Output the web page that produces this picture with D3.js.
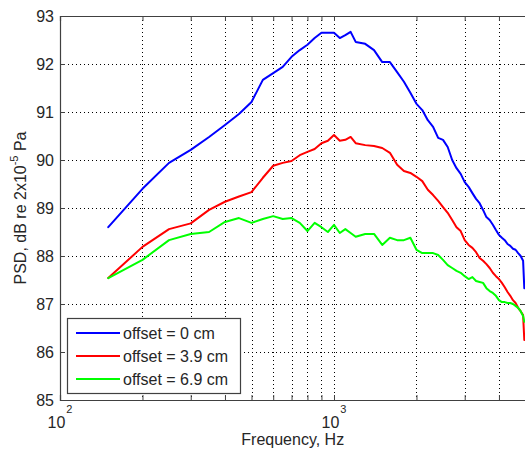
<!DOCTYPE html>
<html>
<head>
<meta charset="utf-8">
<script src="https://cdn.jsdelivr.net/npm/d3@7"></script>
<style>
  html, body { margin: 0; padding: 0; background: #fff; }
  svg { display: block; font-family: "Liberation Sans", Arial, Helvetica, sans-serif; }
</style>
</head>
<body>
<svg id="chart" width="525" height="455"></svg>
<script>
// Frequency grid (Hz)
const freqHz = [150, 200, 250, 300, 350, 400, 450, 500, 550, 600, 650, 700, 750, 800, 850, 900, 950, 1000, 1050, 1100, 1150, 1200,
  1300, 1400, 1500, 1600, 1700, 1800, 1900, 2000, 2100, 2200, 2300, 2400, 2500, 2600, 2700, 2800, 2900, 3000,
  3100, 3200, 3300, 3400, 3500, 3600, 3700, 3800, 3900, 4000, 4100, 4200, 4300, 4400, 4500, 4600, 4700, 4800, 4900, 4950];

// PSD levels, dB re 2x10^-5 Pa
const psdOffset0 = [88.60, 89.40, 89.94, 90.21, 90.48, 90.73, 90.96, 91.21, 91.67, 91.81, 91.94, 92.15, 92.29, 92.40, 92.54, 92.65, 92.65, 92.65, 92.54, 92.60, 92.67, 92.46,
  92.42, 92.29, 92.04, 92.04, 91.83, 91.63, 91.40, 91.17, 91.04, 90.83, 90.69, 90.46, 90.42, 90.27, 90.00, 89.83, 89.71, 89.54,
  89.44, 89.31, 89.19, 89.10, 88.96, 88.81, 88.75, 88.65, 88.54, 88.44, 88.38, 88.33, 88.25, 88.21, 88.15, 88.13, 88.06, 88.00, 87.90, 87.33];
const psdOffset39 = [87.54, 88.19, 88.56, 88.68, 88.96, 89.13, 89.24, 89.33, 89.63, 89.88, 89.94, 89.98, 90.10, 90.17, 90.23, 90.35, 90.40, 90.52, 90.40, 90.42, 90.48, 90.35,
  90.31, 90.29, 90.25, 90.15, 89.90, 89.77, 89.73, 89.65, 89.56, 89.38, 89.27, 89.15, 89.02, 88.90, 88.75, 88.60, 88.52, 88.33,
  88.23, 88.17, 88.08, 87.96, 87.90, 87.83, 87.75, 87.65, 87.58, 87.52, 87.44, 87.35, 87.25, 87.17, 87.08, 87.02, 86.92, 86.85, 86.77, 86.25];
const psdOffset69 = [87.54, 87.92, 88.33, 88.46, 88.50, 88.71, 88.79, 88.69, 88.77, 88.83, 88.77, 88.79, 88.69, 88.52, 88.69, 88.60, 88.50, 88.65, 88.48, 88.56, 88.48, 88.40,
  88.46, 88.46, 88.23, 88.38, 88.33, 88.33, 88.38, 88.13, 88.06, 88.06, 88.06, 88.02, 87.92, 87.81, 87.75, 87.69, 87.65, 87.58,
  87.52, 87.56, 87.48, 87.46, 87.44, 87.33, 87.27, 87.23, 87.17, 87.08, 87.04, 87.04, 87.02, 87.02, 87.00, 86.96, 86.92, 86.85, 86.75, 86.63];

const seriesNames = ["offset = 0 cm", "offset = 3.9 cm", "offset = 6.9 cm"];
const yTickValues = [85, 86, 87, 88, 89, 90, 91, 92, 93];
const xDecadeTicks = [100, 1000];
const xDecadeExponents = ["2", "3"];
const xMinorTicks = [200, 300, 400, 500, 600, 700, 800, 900, 2000, 3000, 4000];
const xDomain = [100, 5000];
const yDomain = [85, 93];

const seriesColors = ["#0000ff", "#ff0000", "#00ff00"];
const textColor = "#262626";
const axisColor = "#404040";

const margin = { left: 60, top: 16, right: 525.5, bottom: 400 };

const svg = d3.select("#chart");
svg.append("rect").attr("width", 525).attr("height", 455).attr("fill", "#fff");

const x = d3.scaleLog().domain(xDomain).range([margin.left, margin.right]);
const y = d3.scaleLinear().domain(yDomain).range([margin.bottom, margin.top]);

const plotW = margin.right - margin.left;
const plotH = margin.bottom - margin.top;

// Dotted grid
const grid = svg.append("g").attr("stroke", "#000").attr("stroke-width", 1)
  .attr("stroke-dasharray", "1,3").attr("shape-rendering", "crispEdges");
grid.selectAll("line.gx").data(xMinorTicks.concat(xDecadeTicks.slice(1))).join("line")
  .attr("x1", d => Math.round(x(d)) + 0.5).attr("x2", d => Math.round(x(d)) + 0.5)
  .attr("y1", margin.top).attr("y2", margin.bottom);
grid.selectAll("line.gy").data(yTickValues.slice(1, -1)).join("line")
  .attr("class", "gy")
  .attr("x1", margin.left).attr("x2", margin.right)
  .attr("y1", d => Math.round(y(d)) + 0.5).attr("y2", d => Math.round(y(d)) + 0.5);

// Axes with inward ticks on all four sides
const allXTicks = xDecadeTicks.concat(xMinorTicks);
const axB = svg.append("g").attr("transform", `translate(0,${margin.bottom})`)
  .call(d3.axisBottom(x).tickValues(allXTicks).tickSize(-5).tickFormat(""));
const axT = svg.append("g").attr("transform", `translate(0,${margin.top})`)
  .call(d3.axisTop(x).tickValues(allXTicks).tickSize(-5).tickFormat(""));
const axL = svg.append("g").attr("transform", `translate(${margin.left},0)`)
  .call(d3.axisLeft(y).tickValues(yTickValues).tickSize(-5).tickPadding(7).tickFormat(d3.format("d")));
const axR = svg.append("g").attr("transform", `translate(${margin.right},0)`)
  .call(d3.axisRight(y).tickValues(yTickValues).tickSize(-5).tickFormat(""));

[axB, axT, axL, axR].forEach(g => {
  g.select(".domain").attr("stroke", axisColor).attr("stroke-width", 1.2);
  g.selectAll(".tick line").attr("stroke", axisColor).attr("stroke-width", 1);
});
axL.selectAll(".tick text").attr("fill", textColor).attr("font-size", 16)
  .attr("font-family", "'Liberation Sans', Arial, sans-serif").attr("dx", "1");

// Decade labels 10^n
const xl = svg.append("g").attr("fill", textColor);
xDecadeTicks.forEach((d, i) => {
  const t = xl.append("text").attr("x", x(d)).attr("y", 428)
    .attr("text-anchor", "middle").attr("font-size", 16);
  t.append("tspan").text("10");
  t.append("tspan").attr("font-size", 11).attr("dy", -15).attr("dx", 1).text(xDecadeExponents[i]);
});

// Axis titles
svg.append("text").attr("x", (margin.left + margin.right) / 2).attr("y", 445)
  .attr("text-anchor", "middle").attr("font-size", 16).attr("fill", textColor)
  .text("Frequency, Hz");

const yt = svg.append("text")
  .attr("transform", `translate(26,${(margin.top + margin.bottom) / 2}) rotate(-90)`)
  .attr("text-anchor", "middle").attr("font-size", 16).attr("fill", textColor);
yt.append("tspan").text("PSD, dB re 2x10");
yt.append("tspan").attr("font-size", 11).attr("dy", -8).text("-5");
yt.append("tspan").attr("dy", 8).text(" Pa");

// Curves
const series = [psdOffset0, psdOffset39, psdOffset69];
const line = d3.line().x((d, i) => x(freqHz[i])).y(d => y(d));
const clip = svg.append("clipPath").attr("id", "plotclip").append("rect")
  .attr("x", margin.left).attr("y", margin.top).attr("width", plotW).attr("height", plotH);
const curves = svg.append("g").attr("clip-path", "url(#plotclip)");
series.forEach((vals, k) => {
  curves.append("path").datum(vals).attr("d", line)
    .attr("fill", "none").attr("stroke", seriesColors[k]).attr("stroke-width", 2)
    .attr("stroke-linejoin", "round").attr("stroke-linecap", "round");
});

// Legend
const leg = svg.append("g");
leg.append("rect").attr("x", 67.5).attr("y", 318.5).attr("width", 173).attr("height", 75)
  .attr("fill", "#fff").attr("stroke", axisColor).attr("stroke-width", 1.2);
seriesNames.forEach((name, k) => {
  const cy = 333 + k * 23;
  leg.append("line").attr("x1", 76).attr("x2", 120).attr("y1", cy).attr("y2", cy)
    .attr("stroke", seriesColors[k]).attr("stroke-width", 2);
  leg.append("text").attr("x", 123).attr("y", cy + 6).attr("font-size", 16)
    .attr("fill", textColor).text(name);
});
</script>
</body>
</html>
